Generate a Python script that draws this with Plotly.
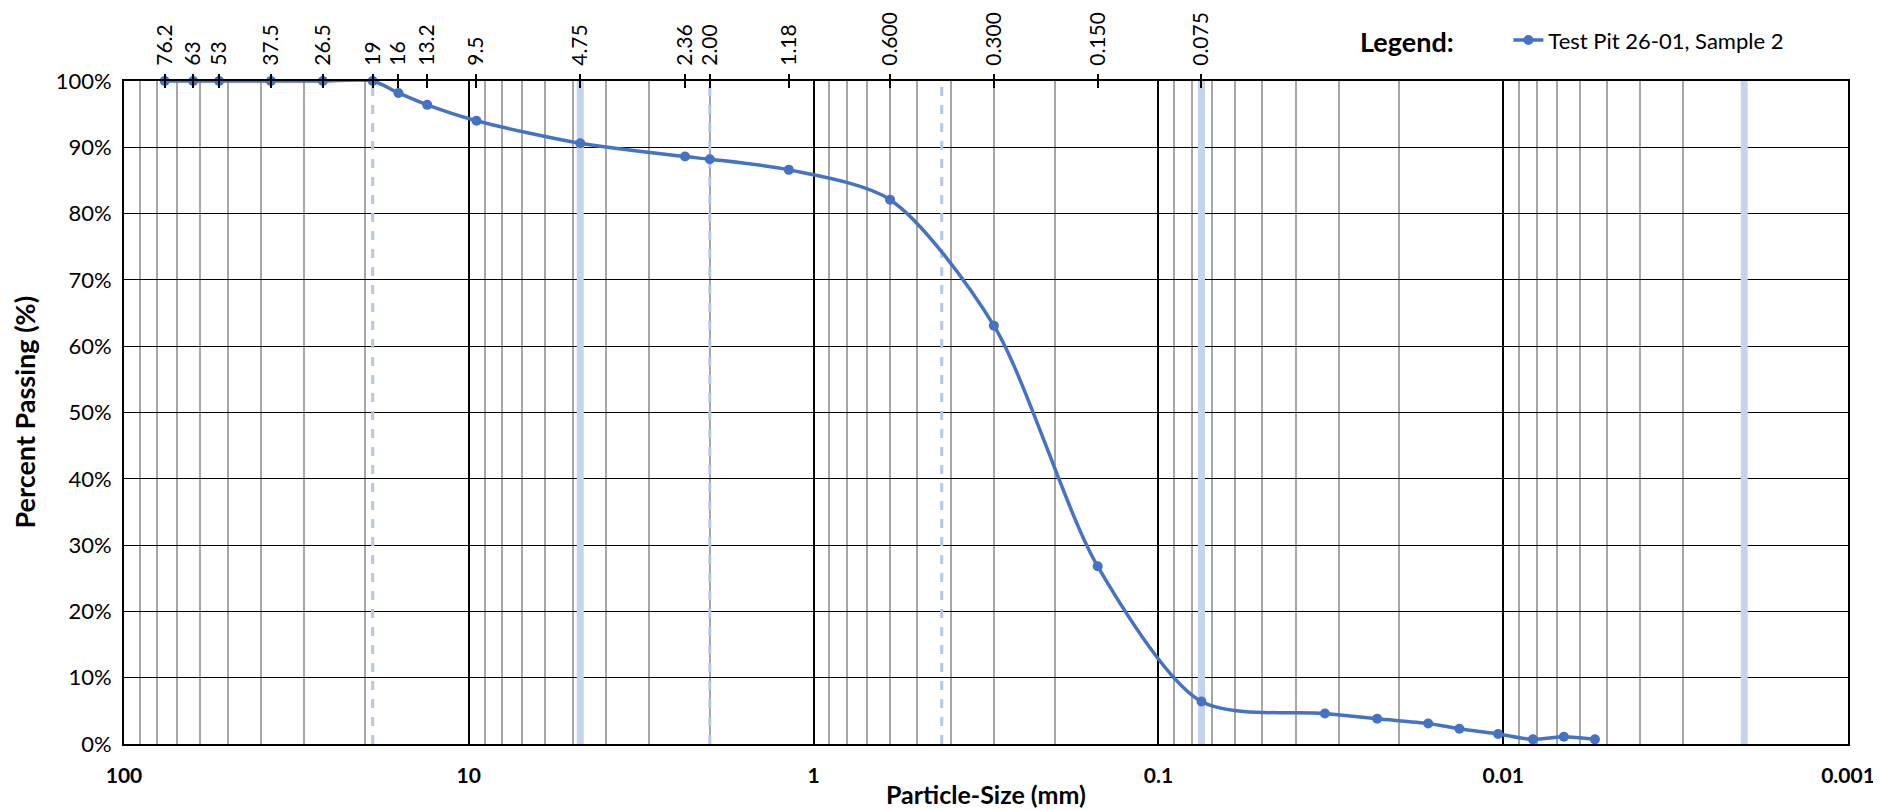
import plotly.graph_objects as go

# ---- data ----
sizes_mm = [76.2, 63, 53, 37.5, 26.5, 19, 16, 13.2, 9.5, 4.75, 2.36, 2.00, 1.18, 0.600, 0.300, 0.150, 0.075,
            0.0329, 0.0232, 0.0165, 0.0134, 0.01035, 0.0082, 0.00667, 0.00542]
percent_passing = [100, 100, 100, 100, 100, 100, 98.2, 96.4, 94.0, 90.6, 88.6, 88.2, 86.6, 82.1, 63.1, 26.8, 6.4,
                   4.6, 3.8, 3.1, 2.3, 1.5, 0.7, 1.1, 0.7]
series_name = "Test Pit 26-01, Sample 2"

sieve_vals = [76.2, 63, 53, 37.5, 26.5, 19, 16, 13.2, 9.5, 4.75, 2.36, 2.00, 1.18, 0.600, 0.300, 0.150, 0.075]
sieve_text = ["76.2", "63", "53", "37.5", "26.5", "19", "16", "13.2", "9.5", "4.75", "2.36", "2.00", "1.18",
              "0.600", "0.300", "0.150", "0.075"]

decade_vals = [100, 10, 1, 0.1, 0.01, 0.001]
decade_text = ["100", "10", "1", "0.1", "0.01", "0.001"]

dashed_bounds = [19, 2.00, 0.425]
solid_bounds = [4.75, 0.075, 0.002]

y_ticks = [0, 10, 20, 30, 40, 50, 60, 70, 80, 90, 100]
y_text = ["%d%%" % v for v in y_ticks]

minor_vals = [m * d for d in [10, 1, 0.1, 0.01, 0.001] for m in range(2, 10)]

FONT = "Lato"
BLUE = "#4472C4"
LIGHT = "#B4C7E7"

fig = go.Figure()


def vlines(vals):
    xs, ys = [], []
    for v in vals:
        xs += [v, v, None]
        ys += [0, 100, None]
    return xs, ys


xs, ys = vlines(solid_bounds)
fig.add_trace(go.Scatter(x=xs, y=ys, mode="lines", line=dict(color="#C5D4EE", width=7),
                         showlegend=False, hoverinfo="skip"))
xs, ys = vlines(dashed_bounds)
fig.add_trace(go.Scatter(x=xs, y=ys, mode="lines", line=dict(color=LIGHT, width=3, dash="dash"),
                         showlegend=False, hoverinfo="skip"))

fig.add_trace(go.Scatter(x=sizes_mm, y=percent_passing, mode="lines+markers", name=series_name,
                         line=dict(color=BLUE, width=3.5, shape="spline", smoothing=0.8),
                         marker=dict(color=BLUE, size=10), cliponaxis=False))

# dummy traces to anchor top axes
fig.add_trace(go.Scatter(x=[100, 0.001], y=[None, None], xaxis="x2", showlegend=False, hoverinfo="skip"))
fig.add_trace(go.Scatter(x=[100, 0.001], y=[None, None], xaxis="x3", showlegend=False, hoverinfo="skip"))

fig.update_layout(
    width=1873, height=802,
    margin=dict(l=116, r=33, t=72, b=66),
    paper_bgcolor="white", plot_bgcolor="white",
    font=dict(family=FONT, size=21, color="black"),
    xaxis=dict(type="log", range=[2, -3], tickvals=decade_vals,
               ticktext=["<b>%s</b>" % t for t in decade_text],
               showgrid=True, gridcolor="black", gridwidth=2,
               minor=dict(tickvals=minor_vals, showgrid=True, gridcolor="#A6A6A6", gridwidth=1.5, ticks=""),
               showline=True, linecolor="black", linewidth=2, mirror=True, ticks="",
               zeroline=False, ticklabelstandoff=12, automargin=False,
               tickfont=dict(size=21)),
    xaxis2=dict(type="log", range=[2, -3], overlaying="x", side="top", anchor="y",
                tickvals=sieve_vals, ticktext=sieve_text, tickangle=-90,
                ticks="outside", ticklen=6, tickwidth=2, tickcolor="black",
                ticklabelstandoff=4, automargin=False,
                showgrid=False, showline=False, zeroline=False, tickfont=dict(size=21)),
    xaxis3=dict(type="log", range=[2, -3], overlaying="x", side="top", anchor="y",
                tickvals=sieve_vals, showticklabels=False, automargin=False,
                ticks="inside", ticklen=7, tickwidth=2, tickcolor="black",
                showgrid=False, showline=False, zeroline=False),
    yaxis=dict(range=[0, 100], tickvals=y_ticks, ticktext=y_text,
               showgrid=True, gridcolor="black", gridwidth=1,
               showline=True, linecolor="black", linewidth=2, mirror=True, ticks="",
               zeroline=False, ticklabelstandoff=6, automargin=False,
               tickfont=dict(size=22)),
    legend=dict(orientation="h", x=0.803, y=1.06, xanchor="left", yanchor="middle",
                font=dict(size=22), bgcolor="rgba(0,0,0,0)"),
    annotations=[
        dict(text="<b>Legend:</b>", xref="paper", yref="paper", x=0.744, y=1.06,
             showarrow=False, font=dict(size=27), xanchor="center", yanchor="middle"),
        dict(text="<b>Particle-Size (mm)</b>", xref="paper", yref="paper", x=0.5, y=-50 / 664,
             showarrow=False, font=dict(size=25), xanchor="center", yanchor="middle"),
        dict(text="<b>Percent Passing (%)</b>", xref="paper", yref="paper", x=-0.058, y=0.5,
             showarrow=False, font=dict(size=27), xanchor="center", yanchor="middle", textangle=-90),
    ],
)

fig.write_html("out.html")
